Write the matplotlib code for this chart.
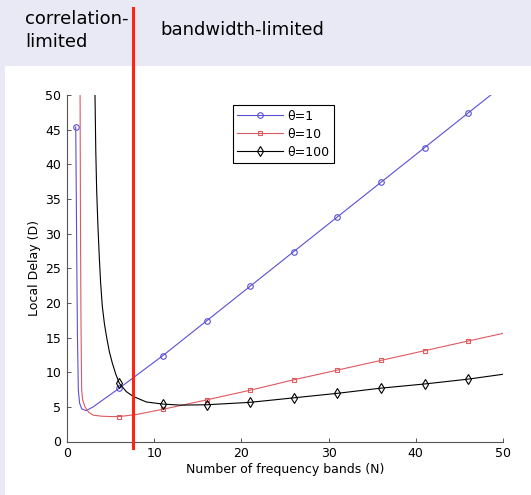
import numpy as np
import matplotlib
matplotlib.use("Agg")
import matplotlib.pyplot as plt
from matplotlib.patches import Rectangle

# values
N_blue = [1.0, 1.05, 1.1, 1.15, 1.2, 1.3, 1.45, 1.7, 2.2, 3, 4, 5, 6, 11, 16, 21, 26, 31, 36, 41, 46, 48.6]
D_blue = [45.4, 38, 30, 22, 15, 7.4, 5.5, 4.7, 4.45, 5.0, 5.9, 6.8, 7.7, 12.4, 17.4, 22.4, 27.4, 32.4, 37.4, 42.4, 47.4, 50]

N_red = [1.5, 1.55, 1.6, 1.68, 1.8, 2.06, 2.5, 3, 4, 5, 6, 8, 11, 16, 21, 26, 31, 36, 41, 46, 50]
D_red = [50, 30, 18, 7.4, 6.0, 5.0, 4.2, 3.8, 3.65, 3.6, 3.6, 3.9, 4.65, 6.0, 7.4, 8.9, 10.3, 11.7, 13.1, 14.5, 15.6]

N_black = [3.21, 3.3, 3.4, 3.55, 3.7, 3.85, 4.05, 4.3, 4.55, 4.85, 5.2, 5.6, 6, 6.8, 7.6, 9.1, 11, 13, 16, 21, 26, 31, 36, 41, 46, 50]
D_black = [50, 42, 36.3, 31, 26.7, 23, 19.5, 16.9, 15, 13.0, 11.3, 9.7, 8.4, 7.2, 6.5, 5.7, 5.4, 5.25, 5.3, 5.65, 6.3, 6.95, 7.7, 8.3, 9.0, 9.7]

marker_N = [1, 6, 11, 16, 21, 26, 31, 36, 41, 46]
series_labels = ['θ=1', 'θ=10', 'θ=100']
boundary_N = 7.6

W, H = 531, 495
fig = plt.figure(figsize=(W / 100, H / 100), dpi=100)
fig.patch.set_facecolor('#e9e9f5')
fig.patches.append(Rectangle((5 / W, 0), 1, 1 - 66 / H, transform=fig.transFigure,
                             facecolor='white', edgecolor='none', zorder=-1))

ax = fig.add_axes([67 / W, 1 - 441.5 / H, 436 / W, 346.5 / H])
ax.set_facecolor('none')

styles = [
    (N_blue, D_blue, '#5a4fd6', 'o', 4),
    (N_red, D_red, '#dd5a5e', 's', 3.3),
    (N_black, D_black, 'black', 'd', 5),
]
for (n, d, c, m, ms), lab in zip(styles, series_labels):
    idx = list(np.where(np.isin(n, marker_N))[0])
    ax.plot(n, d, color=c, lw=0.8, marker=m, markevery=idx, markersize=ms,
            markerfacecolor='none', markeredgecolor=c, markeredgewidth=0.8, label=lab)

ax.set_xlim(0, 50)
ax.set_ylim(0, 50)
ax.set_xticks(np.arange(0, 51, 10))
ax.set_yticks(np.arange(0, 51, 5))
for s in ['top', 'right']:
    ax.spines[s].set_visible(False)
for s in ['left', 'bottom']:
    ax.spines[s].set_color('#555555')
    ax.spines[s].set_linewidth(0.8)
ax.tick_params(direction='in', length=3, width=0.7, color='#555555', labelsize=9, pad=4)
ax.set_xlabel('Number of frequency bands (N)', fontsize=9, labelpad=2)
ax.set_ylabel('Local Delay (D)', fontsize=9, labelpad=3)

leg = ax.legend(loc='upper left', bbox_to_anchor=(0.38, 0.97), fontsize=9, handlelength=3.7,
                handletextpad=0.3, borderpad=0.35, labelspacing=0.4, borderaxespad=0,
                fancybox=False, framealpha=1)
leg.get_frame().set_edgecolor('black')
leg.get_frame().set_linewidth(0.8)

# regime boundary, running up into the header strip
ax.axvline(boundary_N, ymin=-0.019, ymax=1.251, color='#ff2410', lw=2.2, clip_on=False, zorder=5)

fig.text(25 / W, 1 - 10 / H, 'correlation-\nlimited', fontsize=13, va='top', ha='left', linespacing=1.35)
fig.text(160 / W, 1 - 30 / H, 'bandwidth-limited', fontsize=13, va='center', ha='left')

fig.savefig('out.png', dpi=100, facecolor=fig.get_facecolor())
